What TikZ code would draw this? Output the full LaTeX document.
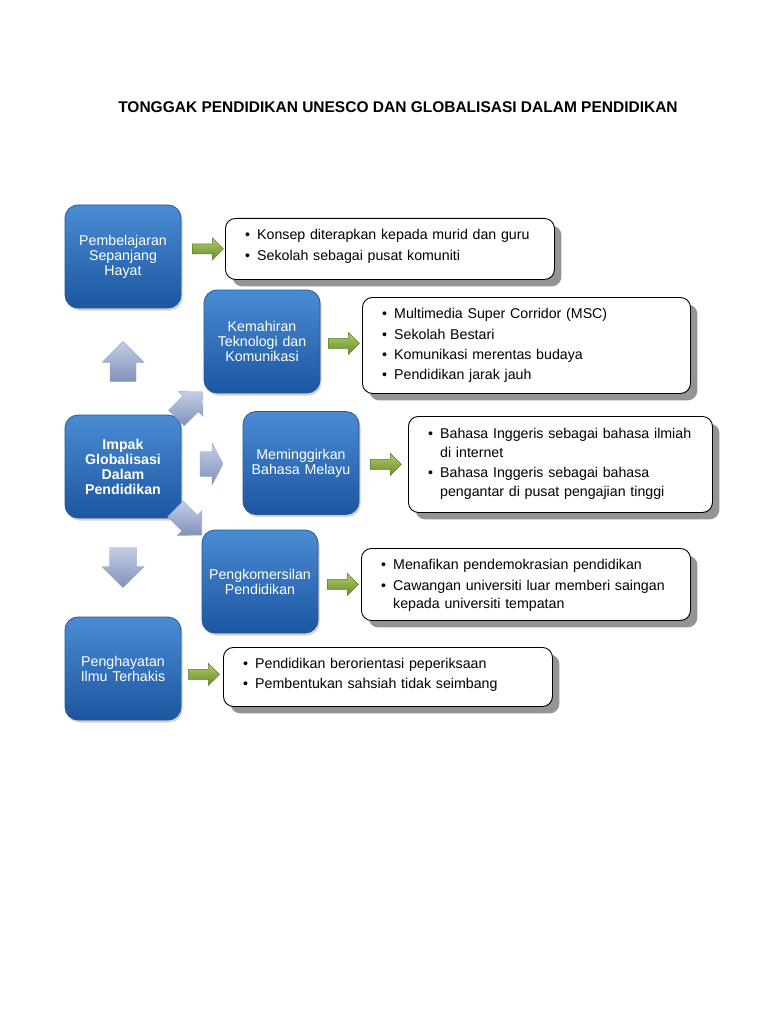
\documentclass[tikz,border=0pt]{standalone}
\usepackage{fontspec}
\setmainfont{Liberation Sans}
\usetikzlibrary{calc,shadows}
\definecolor{bluetop}{RGB}{74,140,212}
\definecolor{bluebot}{RGB}{28,86,160}
\definecolor{blueedge}{RGB}{38,88,150}
\definecolor{greentop}{RGB}{176,204,106}
\definecolor{greenbot}{RGB}{104,140,42}
\definecolor{greenedge}{RGB}{92,122,40}
\definecolor{graytop}{RGB}{196,206,228}
\definecolor{graybot}{RGB}{128,146,188}
\definecolor{grayedge}{RGB}{150,164,196}
\newcommand\bl[1]{\hangindent=12pt\hangafter=1\noindent\makebox[12pt][l]{\textbullet}#1\par\vskip 1.8pt}
\newcommand\greenarr[1]{\shade[greenarrow,shift={#1}] (0,-5) -- (20,-5) -- (20,-11) -- (31,0) -- (20,11) -- (20,5) -- (0,5) -- cycle;}
\newcommand\grayarr[6]{%
  \pgfmathsetmacro\arrHalfL{#3/2}%
  \pgfmathsetmacro\arrNeck{#3/2-#6}%
  \pgfmathsetmacro\arrHalfW{#4/2}%
  \pgfmathsetmacro\arrHalfB{#5/2}%
  \shade[grayarrow, shift={#1}, rotate=#2] (-\arrHalfL,-\arrHalfB) -- (\arrNeck,-\arrHalfB) -- (\arrNeck,-\arrHalfW) -- (\arrHalfL,0) -- (\arrNeck,\arrHalfW) -- (\arrNeck,\arrHalfB) -- (-\arrHalfL,\arrHalfB) -- cycle;}
\begin{document}
\begin{tikzpicture}[x=1pt,y=-1pt,
  bluebox/.style={rounded corners=13pt, minimum width=116pt, minimum height=103pt,
    text width=112pt, align=center, text=white, inner sep=0pt,
    top color=bluetop, bottom color=bluebot, draw=blueedge, line width=0.8pt,
    font=\fontsize{14.2}{15}\selectfont,
    drop shadow={shadow xshift=1.5pt, shadow yshift=-2.5pt, opacity=0.35}},
  wbox/.style={rounded corners=10pt, draw=black, line width=0.9pt, fill=white,
    anchor=north west, inner sep=0pt,
    drop shadow={shadow xshift=7pt, shadow yshift=-7pt, fill=black!42, opacity=1}},
  wtext/.style={anchor=north west, inner sep=0pt, text width=330pt, align=left,
    font=\fontsize{14.2}{18.5}\selectfont},
  greenarrow/.style={top color=greentop, bottom color=greenbot, draw=greenedge, line width=0.5pt},
  grayarrow/.style={top color=graytop, bottom color=graybot, draw=grayedge, line width=0.4pt}
]
\fill[white] (0,0) rectangle (768,1024);
\useasboundingbox (0,0) rectangle (768,1024);

\node[font=\fontsize{15.5}{18}\selectfont\bfseries, inner sep=0pt] (title) at (398,107)
  {TONGGAK PENDIDIKAN UNESCO DAN GLOBALISASI DALAM PENDIDIKAN};

% blue boxes
\node[bluebox] (b1) at (123,256.5) {Pembelajaran\\Sepanjang\\Hayat};
\node[bluebox] (b2) at (262,341.5) {Kemahiran\\Teknologi dan\\Komunikasi};
\node[bluebox, font=\fontsize{14.2}{15}\selectfont\bfseries] (b3) at (123,466.5) {Impak\\Globalisasi\\Dalam\\Pendidikan};
\node[bluebox] (b4) at (301,463) {Meminggirkan\\Bahasa Melayu};
\node[bluebox] (b5) at (260,581.5) {Pengkomersilan\\Pendidikan};
\node[bluebox] (b6) at (123,668.5) {Penghayatan\\Ilmu Terhakis};

% white boxes
\node[wbox, minimum width=329pt, minimum height=61pt] (w1) at (225,218) {};
\node[wbox, minimum width=328pt, minimum height=96pt] (w2) at (362,297) {};
\node[wbox, minimum width=304pt, minimum height=96pt] (w3) at (408,416) {};
\node[wbox, minimum width=329pt, minimum height=72pt] (w4) at (361,548) {};
\node[wbox, minimum width=329pt, minimum height=59pt] (w5) at (223,647) {};

\node[wtext] (t1) at ($(w1.north west)+(20,11.5)$) {%
  \bl{Konsep diterapkan kepada murid dan guru}
  \bl{Sekolah sebagai pusat komuniti}};
\node[wtext] (t2) at ($(w2.north west)+(20,11.5)$) {%
  \bl{Multimedia Super Corridor (MSC)}
  \bl{Sekolah Bestari}
  \bl{Komunikasi merentas budaya}
  \bl{Pendidikan jarak jauh}};
\node[wtext] (t3) at ($(w3.north west)+(20,12.5)$) {%
  \bl{Bahasa Inggeris sebagai bahasa ilmiah\newline di internet}
  \bl{Bahasa Inggeris sebagai bahasa\newline pengantar di pusat pengajian tinggi}};
\node[wtext] (t4) at ($(w4.north west)+(20,11.5)$) {%
  \bl{Menafikan pendemokrasian pendidikan}
  \bl{Cawangan universiti luar memberi saingan\newline kepada universiti tempatan}};
\node[wtext] (t5) at ($(w5.north west)+(20,11)$) {%
  \bl{Pendidikan berorientasi peperiksaan}
  \bl{Pembentukan sahsiah tidak seimbang}};

% green arrows
\coordinate (g1) at ($(b1.east |- w1.west)+(11,0)$);
\coordinate (g2) at ($(b2.east |- w2.west)+(8,-2)$);
\coordinate (g3) at ($(b4.east |- w3.west)+(11,0)$);
\coordinate (g4) at ($(b5.east |- w4.west)+(9,0)$);
\coordinate (g5) at ($(b6.east |- w5.west)+(7,-2.5)$);
\greenarr{(g1)}
\greenarr{(g2)}
\greenarr{(g3)}
\greenarr{(g4)}
\greenarr{(g5)}

% gray arrows around Impak
\coordinate (au) at ($(b1.south)!0.5!(b3.north)$);
\coordinate (aur) at (189.5,405);
\coordinate (ar) at (211.5,464);
\coordinate (adr) at (188.5,522);
\coordinate (ad) at ($(b3.south)!0.5!(b6.north)$);
\grayarr{(au)}{90}{40}{42}{26}{21}
\grayarr{(aur)}{45}{37}{35}{22}{17}
\grayarr{(ar)}{0}{23}{42}{25}{11}
\grayarr{(adr)}{-45}{37}{35}{22}{17}
\grayarr{(ad)}{-90}{40}{42}{27}{21}
\end{tikzpicture}
\end{document}
